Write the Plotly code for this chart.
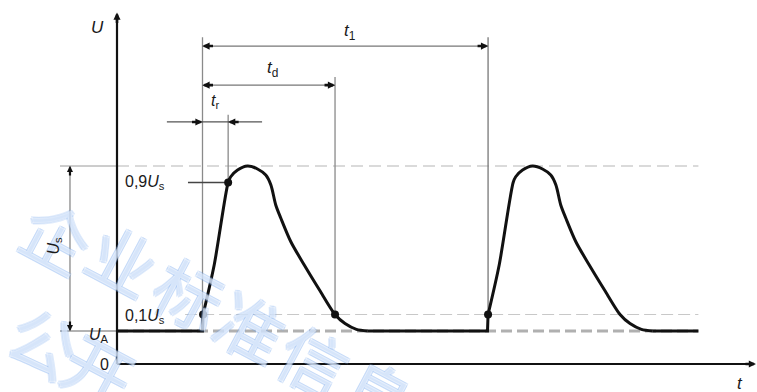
import plotly.graph_objects as go

# ---------------- data (time in arbitrary units, voltage in units of Us) ----------------
U_A = 0.20          # base level
U_10 = 0.30         # 0,1 Us level
U_90 = 1.10         # 0,9 Us level
U_PEAK = 1.20       # peak level

T_START_1 = 3.00    # start of first pulse
T_RISE = 3.90       # 0,9 Us point
T_D = 7.65          # td point (0,1 Us on falling edge)
T_START_2 = 13.02   # start of second pulse (t1 point)
T_END = 20.40       # end of drawn signal

base_t_1 = [0.00, 3.00, 3.02]
base_u_1 = [0.20, 0.20, 0.30]
pulse_t_1 = [3.02, 3.41, 3.90, 3.99, 4.23, 4.58, 4.93, 5.22, 5.40, 5.57, 5.75, 6.10, 6.57, 7.10, 7.65, 8.00, 8.40, 8.80]
pulse_u_1 = [0.30, 0.60, 1.10, 1.135, 1.176, 1.20, 1.182, 1.145, 1.085, 0.964, 0.883, 0.741, 0.60, 0.45, 0.30, 0.245, 0.21, 0.20]
base_t_2 = [8.80, 13.00, 13.02]
base_u_2 = [0.20, 0.20, 0.30]
pulse_t_2 = [13.02, 13.41, 13.90, 13.99, 14.23, 14.58, 14.93, 15.22, 15.40, 15.57, 15.75, 16.10, 16.57, 17.10, 17.65, 18.00, 18.40, 18.80]
pulse_u_2 = [0.30, 0.60, 1.10, 1.135, 1.176, 1.20, 1.182, 1.145, 1.085, 0.964, 0.883, 0.741, 0.60, 0.45, 0.30, 0.245, 0.21, 0.20]
base_t_3 = [18.80, 20.40]
base_u_3 = [0.20, 0.20]

dot_t = [3.02, 3.90, 7.65, 13.02]
dot_u = [0.30, 1.10, 0.30, 0.30]

# ---------------- figure ----------------
fig = go.Figure()
BLACK = "#111111"
for tt, uu, shp in [(base_t_1, base_u_1, "linear"), (pulse_t_1, pulse_u_1, "spline"),
                    (base_t_2, base_u_2, "linear"), (pulse_t_2, pulse_u_2, "spline"),
                    (base_t_3, base_u_3, "linear")]:
    fig.add_trace(go.Scatter(x=tt, y=uu, mode="lines",
                             line=dict(color=BLACK, width=3, shape=shp, smoothing=0.8),
                             hoverinfo="skip"))
fig.add_trace(go.Scatter(x=dot_t, y=dot_u, mode="markers",
                         marker=dict(color=BLACK, size=8), hoverinfo="skip"))

shapes = []
def seg(x0, y0, x1, y1, color, width, dash="solid", layer="below"):
    shapes.append(dict(type="line", xref="x", yref="y", x0=x0, y0=y0, x1=x1, y1=y1,
                       line=dict(color=color, width=width, dash=dash), layer=layer))

# reference levels
seg(-2.0, U_PEAK, 0, U_PEAK, "#9a9a9a", 1)
seg(0, U_PEAK, T_END, U_PEAK, "#b5b5b5", 1.2, "12px,6px")
seg(-2.0, U_A, 0, U_A, "#9a9a9a", 1.5)
seg(0, U_A, T_END, U_A, "#b0b0b0", 3, "11px,5px")
seg(2.39, U_10, T_END, U_10, "#c8c8c8", 1, "12px,5px")
# extension lines
seg(T_START_1, 1.98, T_START_1, U_A, "#8a8a8a", 1.3)
seg(T_START_2, 1.98, T_START_2, U_10, "#777777", 1.3)
seg(T_D, 1.74, T_D, U_10, "#8a8a8a", 1.3)
seg(T_RISE, 1.51, T_RISE, U_90, "#8a8a8a", 1.3)
# dimension lines
seg(T_START_1, 1.927, T_START_2, 1.927, "#777777", 1.3)
seg(T_START_1, 1.69, T_D, 1.69, "#777777", 1.3)
seg(1.75, 1.467, 5.09, 1.467, "#555555", 1.3)
seg(-1.65, U_A, -1.65, U_PEAK, "#8a8a8a", 1.3)
# 0,9 Us leader
seg(2.49, U_90, T_RISE, U_90, "#444444", 1.3)
# axes
seg(0, 0, 0, 2.10, BLACK, 2.2, layer="above")
seg(0, 0, 22.3, 0, BLACK, 2.2, layer="above")

ann = []

# watermark first (paper coordinates) so chart labels are drawn over it
wm_chars = ["企", "业", "标", "准", "信", "息", "公", "开"]
wm_px = [(58, 235), (124, 258), (190, 292), (252, 325), (315, 359), (379, 393), (45, 340), (100, 368)]
WM_EDGE = "rgba(120,170,238,0.45)"
for ch, (px, py) in zip(wm_chars, wm_px):
    ann.append(dict(x=px / 757, y=1 - py / 392, xref="paper", yref="paper", text=ch,
                    showarrow=False, xanchor="center", yanchor="middle", textangle=28,
                    font=dict(family="Noto Sans CJK SC", size=68, color="rgba(255,255,255,0.55)",
                              shadow=f"1px 1px 0 {WM_EDGE}, -1px -1px 0 {WM_EDGE}, 1px -1px 0 {WM_EDGE}, -1px 1px 0 {WM_EDGE}")))

def head(x, y, ax, ay, width=2.6):
    ann.append(dict(x=x, y=y, xref="x", yref="y", ax=ax, ay=ay, axref="pixel", ayref="pixel",
                    text="", showarrow=True, arrowhead=2, arrowsize=0.55, arrowwidth=width,
                    arrowcolor=BLACK, standoff=0, startstandoff=0))

head(T_START_1, 1.927, 12, 0)
head(T_START_2, 1.927, -12, 0)
head(T_START_1, 1.69, 12, 0)
head(T_D, 1.69, -12, 0)
head(T_START_1, 1.467, -12, 0)
head(T_RISE, 1.467, 12, 0)
head(-1.65, U_PEAK, 0, 11, 2.2)
head(-1.65, U_A, 0, -11, 2.2)
head(0, 2.13, 0, 12, 2.6)
head(22.42, 0, -12, 0, 2.6)

FONT = "Liberation Sans"
def label(x, y, text, xa="center", ya="middle", size=16, angle=0):
    ann.append(dict(x=x, y=y, xref="x", yref="y", text=text, showarrow=False, xanchor=xa, yanchor=ya,
                    textangle=angle, font=dict(family=FONT, size=size, color="#1a1a1a")))

label(-0.67, 2.04, "<i>U</i>", size=17)
label(8.18, 2.01, "<i>t</i><sub>1</sub>", size=17)
label(5.44, 1.79, "<i>t</i><sub>d</sub>", size=17)
label(3.44, 1.59, "<i>t</i><sub>r</sub>", size=16)
label(0.20, U_90, "0,9<i>U</i><sub>s</sub>", xa="left", size=16)
label(0.20, 0.29, "0,1<i>U</i><sub>s</sub>", xa="left", size=16)
label(-0.2, 0.17, "<i>U</i><sub>A</sub>", xa="right", size=16)
label(-0.22, 0.0, "0", xa="right", size=16)
label(-2.2, 0.72, "<i>U</i><sub>s</sub>", size=16, angle=-90)
label(21.86, -0.12, "<i>t</i>", size=17)

fig.update_layout(
    width=757, height=392, margin=dict(l=0, r=0, t=0, b=0),
    paper_bgcolor="white", plot_bgcolor="white", showlegend=False,
    xaxis=dict(range=[-117 / 28.5, 640 / 28.5], visible=False, fixedrange=True),
    yaxis=dict(range=[-28 / 165, 364 / 165], visible=False, fixedrange=True),
    shapes=shapes, annotations=ann,
)
fig.write_html("out.html", config={"displayModeBar": False},
               post_script="document.body.style.margin='0';document.body.style.overflow='hidden';")
